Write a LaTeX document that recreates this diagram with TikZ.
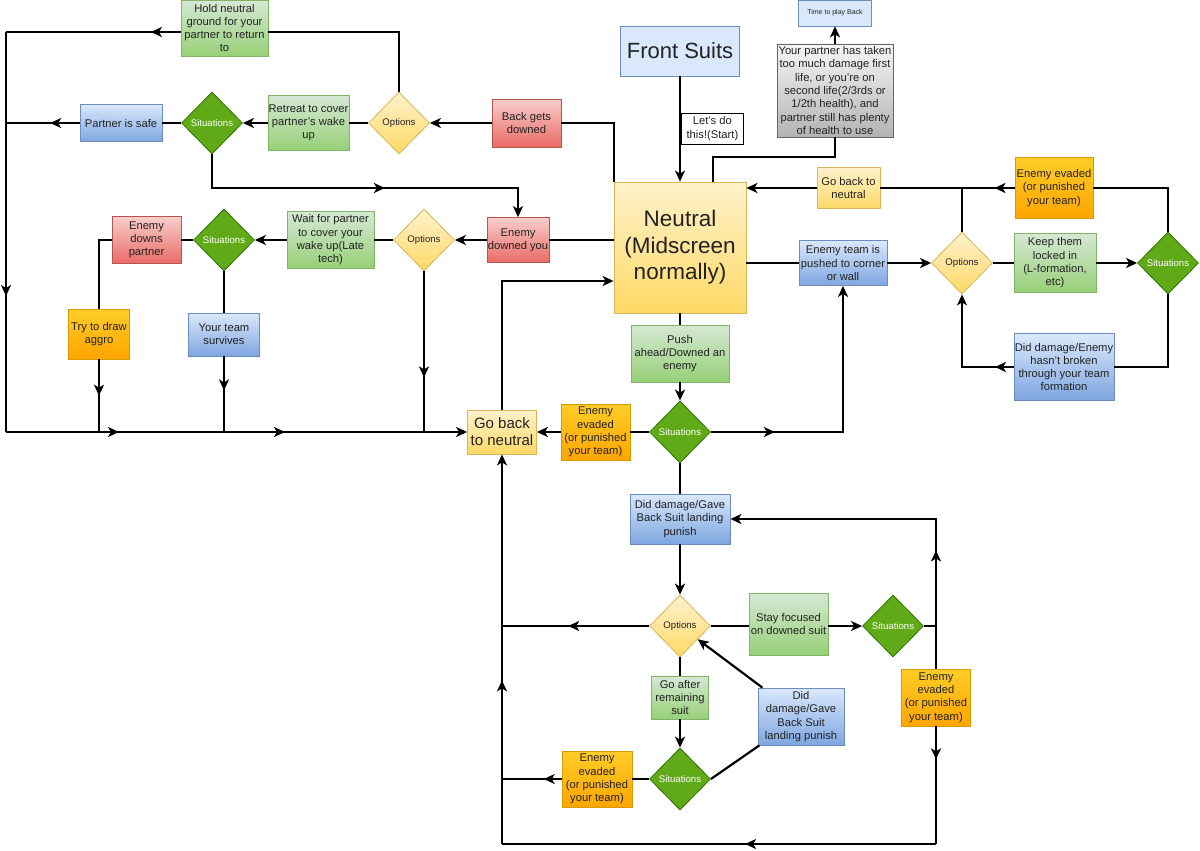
\documentclass[tikz,border=0pt]{standalone}
\usepackage{fontspec}
\setmainfont{Liberation Sans}
\usetikzlibrary{arrows.meta,shapes.geometric,decorations.markings,calc}
\definecolor{bT}{HTML}{DAE8FC}\definecolor{bB}{HTML}{7EA6E0}\definecolor{bD}{HTML}{6C8EBF}
\definecolor{gT}{HTML}{D5E8D4}\definecolor{gB}{HTML}{97D077}\definecolor{gD}{HTML}{82B366}
\definecolor{rT}{HTML}{F8CECC}\definecolor{rB}{HTML}{EA6B66}\definecolor{rD}{HTML}{B85450}
\definecolor{oT}{HTML}{FFCD28}\definecolor{oB}{HTML}{FFA500}\definecolor{oD}{HTML}{D79B00}
\definecolor{yT}{HTML}{FFF2CC}\definecolor{yB}{HTML}{FFD966}\definecolor{yD}{HTML}{D6B656}
\definecolor{sF}{HTML}{60A917}\definecolor{sD}{HTML}{2D7600}
\definecolor{kT}{HTML}{F5F5F5}\definecolor{kB}{HTML}{B3B3B3}\definecolor{kD}{HTML}{666666}
\definecolor{txt}{HTML}{222222}
\tikzset{
  nd/.style={draw, line width=0.8pt, rectangle, align=center, inner sep=0pt,
    font=\fontsize{11.2}{13.3}\selectfont, text=txt},
  wh/.style 2 args={minimum width=#1pt, minimum height=#2pt},
  gbox/.style={nd, top color=gT, bottom color=gB, draw=gD},
  bbox/.style={nd, top color=bT, bottom color=bB, draw=bD},
  lbbox/.style={nd, fill=bT, draw=bD},
  rbox/.style={nd, top color=rT, bottom color=rB, draw=rD},
  obox/.style={nd, top color=oT, bottom color=oB, draw=oD},
  ybox/.style={nd, top color=yT, bottom color=yB, draw=yD},
  kbox/.style={nd, top color=kT, bottom color=kB, draw=kD},
  dia/.style={diamond, aspect=1, inner sep=0pt, line width=0.8pt,
    font=\fontsize{9.6}{11}\selectfont, minimum width=61pt, minimum height=62pt},
  opt/.style={dia, top color=yT, bottom color=yB, draw=yD, text=txt},
  sit/.style={dia, fill=sF, draw=sD, text=white},
  marr/.style={postaction={decorate,decoration={markings,mark=at position #1 with {\arrow{>}}}}}
}
\begin{document}
\begin{tikzpicture}[x=1pt,y=-1pt,>={Stealth[length=11pt,width=10pt,inset=3pt]}]
\fill[white] (0,0) rectangle (1200,851);
\useasboundingbox (0,0) rectangle (1200,851);

% ---------- nodes ----------
\node[lbbox, wh={119}{50}, font=\fontsize{22}{26}\selectfont] (front) at (680,51) {Front Suits};
\node[ybox, wh={132}{131}, font=\fontsize{22.5}{26.5}\selectfont] (neutral) at (680,247.5) {Neutral\\(Midscreen\\normally)};
\node[nd, fill=white, draw=black, wh={62}{31}, anchor=west] (start) at (681,128.5) {Let's do\\this!(Start)};
\node[lbbox, wh={73}{26}, font=\fontsize{7}{8}\selectfont] (timeback) at (835,13) {Time to play Back};
\node[kbox, wh={116}{93}] (grey) at (835,90.5) {Your partner has taken\\too much damage first\\life, or you're on\\second life(2/3rds or\\1/2th health), and\\partner still has plenty\\of health to use};

\node[rbox, wh={69}{48}] (backdown) at (526.5,123) {Back gets\\downed};
\node[opt] (o1) at (399,123) {Options};
\node[gbox, wh={81}{55}] (retreat) at (308.5,123) {Retreat to cover\\partner's wake\\up};
\node[sit] (s1) at (212,123) {Situations};
\node[bbox, wh={82}{37}] (safe) at (121,123) {Partner is safe};
\node[gbox, wh={87}{56}] (hold) at (224.5,28) {Hold neutral\\ground for your\\partner to return\\to};

\node[rbox, wh={62}{45}] (edy) at (518,240) {Enemy\\downed you};
\node[opt] (o2) at (424,240) {Options};
\node[gbox, wh={87}{57}] (wait) at (330.5,240) {Wait for partner\\to cover your\\wake up(Late\\tech)};
\node[sit] (s2) at (224,240) {Situations};
\node[rbox, wh={69}{47}] (edp) at (146.5,240) {Enemy\\downs\\partner};
\node[obox, wh={61}{50}] (aggro) at (99,334) {Try to draw\\aggro};
\node[bbox, wh={71}{43}] (survive) at (224,334.5) {Your team\\survives};

\node[ybox, wh={69}{44}, font=\fontsize{15}{17}\selectfont] (goL) at (502,432) {Go back\\to neutral};
\node[gbox, wh={98}{57}] (push) at (680,353.5) {Push\\ahead/Downed an\\enemy};
\node[sit] (s3) at (680,432) {Situations};
\node[obox, wh={69}{56}] (eem) at (595.5,432) {Enemy\\evaded\\(or punished\\your team)};

\node[bbox, wh={88}{45}] (etp) at (843,263) {Enemy team is\\pushed to corner\\or wall};
\node[opt] (o3) at (962,263) {Options};
\node[gbox, wh={82}{59}] (keep) at (1055,263) {Keep them\\locked in\\(L-formation,\\etc)};
\node[sit] (s4) at (1168,263) {Situations};
\node[ybox, wh={63}{41}] (gbt) at (848.5,188) {Go back to\\neutral};
\node[obox, wh={78}{61}] (eet) at (1054,188) {Enemy evaded\\(or punished\\your team)};
\node[bbox, wh={100}{67}] (dde) at (1064,367) {Did damage/Enemy\\hasn't broken\\through your team\\formation};

\node[bbox, wh={100}{50}] (ddg) at (680,519) {Did damage/Gave\\Back Suit landing\\punish};
\node[opt] (o4) at (680,626) {Options};
\node[gbox, wh={79}{62}] (stay) at (788.5,624) {Stay focused\\on downed suit};
\node[sit] (s5) at (893,626) {Situations};
\node[obox, wh={69}{57}] (eer) at (936,697.5) {Enemy\\evaded\\(or punished\\your team)};
\node[gbox, wh={57}{43}] (goa) at (680,697.5) {Go after\\remaining\\suit};
\node[sit] (s6) at (680,779) {Situations};
\node[bbox, wh={86}{57}] (ddl) at (801,716.5) {Did\\damage/Gave\\Back Suit\\landing punish};
\node[obox, wh={70}{56}] (eeb) at (597,779) {Enemy\\evaded\\(or punished\\your team)};

% ---------- helper coordinates ----------
\coordinate (L1) at (6,32);
\coordinate (L3) at (6,432);
\coordinate (y188) at (0,188);
\coordinate (y281) at (0,281);
\coordinate (xl) at (502,0);
\coordinate (xr) at (936,0);
\coordinate (yb) at (0,844);
\coordinate (n1) at ([xshift=33pt]neutral.north);

% ---------- connectors ----------
\begin{scope}[line width=2.2pt]
\draw[->] (front) -- (neutral);
\draw (n1) -- ++(0,-25) -| (grey.south);
\draw[->] (grey) -- (timeback);

\draw (neutral.north west) |- (backdown);
\draw[->] (backdown) -- (o1);
\draw (o1) -- (retreat);
\draw[->] (retreat) -- (s1);
\draw (s1) -- (safe);
\draw[marr=0.4] (safe.west) -- (L1 |- safe);
\draw (o1.north) |- (hold.east |- L1);
\draw[marr=0.17] (hold.west |- L1) -- (L1);
\draw[marr=0.66] (L1) -- (L3);
\draw[->, marr=0.245, marr=0.605] (L3) -- (goL.west);
\draw[->, marr=0.56] (s1.south) |- (edy.north |- y188) -- (edy.north);

\draw (edy -| neutral.west) -- (edy);
\draw[->] (edy) -- (o2);
\draw (o2) -- (wait);
\draw[->] (wait) -- (s2);
\draw (s2) -- (edp);
\draw (edp.west) -| (aggro.north);
\draw[marr=0.5] (aggro.south) -- (aggro.south |- L3);
\draw (s2.south) -- (survive.north);
\draw[marr=0.45] (survive.south) -- (survive.south |- L3);
\draw[marr=0.66] (o2.south) -- (o2.south |- L3);

\draw[->] (goL.north) |- (neutral.west |- y281);
\draw (neutral) -- (push);
\draw[->] (push) -- (s3);
\draw (s3) -- (eem);
\draw[->] (eem) -- (goL);
\draw[->, marr=0.23] (s3.east) -| (etp.south);

\draw (etp -| neutral.east) -- (etp);
\draw[->] (etp) -- (o3);
\draw (o3) -- (keep);
\draw[->] (keep) -- (s4);
\draw (s4.north) |- (eet);
\draw[marr=0.15] (eet) -- (gbt);
\draw[->] (gbt) -- (gbt -| neutral.east);
\draw (o3.north) -- (o3.north |- gbt);
\draw (s4.south) |- (dde);
\draw[->, marr=0.15] (dde) -| (o3.south);

\draw (s3) -- (ddg);
\draw[->] (ddg) -- (o4);
\draw (o4.east) -- (o4.east -| stay.west);
\draw[->] (stay.east |- s5) -- (s5.west);
\draw[->, marr=0.27] (s5.east) -- (s5.east -| xr) |- (ddg.east);
\draw (s5.east -| xr) -- (eer.north);
\draw[marr=0.28] (eer.south) -- (xr |- yb);
\draw[marr=0.44] (xr |- yb) -- (xl |- yb);
\draw[->, marr=0.42] (xl |- yb) -- (goL.south);
\draw[marr=0.55] (o4.west) -- (o4.west -| xl);
\draw (o4) -- (goa);
\draw[->] (goa) -- (s6);
\draw (s6) -- (eeb);
\draw[marr=0.3] (eeb.west) -- (eeb.west -| xl);
\draw (s6.east) -- (ddl);
\draw[->] (ddl) -- (o4);
\end{scope}
\end{tikzpicture}
\end{document}
